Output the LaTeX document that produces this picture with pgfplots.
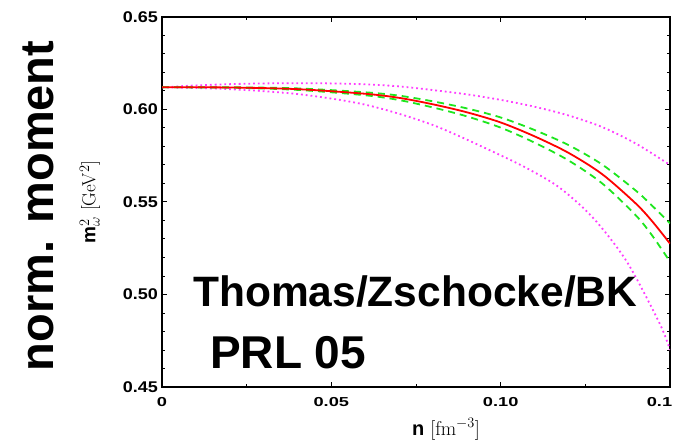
\documentclass[border=0pt]{standalone}
\usepackage{pgfplots}
\pgfplotsset{compat=1.18}
\usepackage{fontspec}
\setsansfont{Liberation Sans}
\definecolor{lgreen}{RGB}{30,230,30}
\definecolor{lmag}{RGB}{255,60,255}
\begin{document}
\begin{tikzpicture}
\useasboundingbox (0pt,0pt) rectangle (679pt,439pt);
\clip (0pt,0pt) rectangle (679pt,439pt);
\begin{axis}[
  at={(162pt,52pt)}, anchor=south west,
  scale only axis, width=508pt, height=370pt,
  xmin=0, xmax=0.15, ymin=0.45, ymax=0.65,
  xtick={0,0.05,0.1,0.15}, xticklabels={0,0.05,0.10,{0.1\hspace*{15pt}}},
  ytick={0.45,0.5,0.55,0.6,0.65}, yticklabels={0.45,0.50,0.55,0.60,0.65},
  minor x tick num=1, minor y tick num=4,
  tick align=inside,
  major tick length=5pt, minor tick length=3pt,
  every tick/.style={black, line width=1pt},
  axis line style={black, line width=1.6pt},
  /pgf/number format/assume math mode=true,
  yticklabel style={font=\sffamily\bfseries\fontsize{15.5}{16}\selectfont, xscale=1.16},
  xticklabel style={font=\sffamily\bfseries\fontsize{13}{14}\selectfont, xscale=1.4, yshift=-7pt},
  xlabel={\textsf{\textbf{n}} [fm$^{-3}$]},
  xlabel style={font=\fontsize{20}{22}\selectfont, at={(axis description cs:0.5,0)}, anchor=base, yshift=-48pt, xshift=30pt},
  ylabel={\textsf{\textbf{m}}$^2_\omega$ [GeV$^2$]},
  every axis y label/.style={at={(axis description cs:-0.142,0.5)}, rotate=90, anchor=center, font=\fontsize{19}{21}\selectfont},
]
\addplot[lmag, line width=1.8pt, dash pattern=on 1.8pt off 3pt, smooth] table {
0 0.6120
0.01 0.6130
0.02 0.6137
0.03 0.6141
0.04 0.6142
0.05 0.6141
0.06 0.6136
0.07 0.6125
0.08 0.6105
0.09 0.6082
0.10 0.6052
0.11 0.6015
0.12 0.5968
0.13 0.5905
0.14 0.5815
0.15 0.5700
};
\addplot[lmag, line width=1.8pt, dash pattern=on 1.8pt off 3pt, smooth] table {
0 0.6120
0.0201 0.6110
0.0407 0.6082
0.0605 0.6024
0.0800 0.5916
0.0998 0.5754
0.1087 0.5673
0.1175 0.5576
0.1273 0.5414
0.1373 0.5176
0.1470 0.4841
0.1500 0.4700
};
\addplot[lgreen, line width=1.8pt, dash pattern=on 7pt off 5pt, smooth] table {
0 0.6120
0.02 0.6120
0.04 0.6114
0.06 0.6093
0.07 0.6075
0.08 0.6044
0.09 0.6006
0.10 0.5957
0.11 0.5889
0.12 0.5808
0.13 0.5702
0.14 0.5560
0.145 0.5475
0.15 0.5385
};
\addplot[lgreen, line width=1.8pt, dash pattern=on 7pt off 5pt, smooth] table {
0 0.6120
0.02 0.6118
0.04 0.6106
0.06 0.6077
0.07 0.6051
0.08 0.6011
0.09 0.5963
0.10 0.5902
0.11 0.5821
0.12 0.5725
0.13 0.5600
0.14 0.5426
0.145 0.5312
0.15 0.5177
};
\addplot[red, line width=1.8pt, smooth] table {
0 0.6120
0.02 0.6119
0.04 0.6110
0.06 0.6085
0.07 0.6063
0.08 0.6028
0.09 0.5985
0.10 0.5930
0.11 0.5855
0.12 0.5766
0.13 0.5650
0.14 0.5490
0.145 0.5390
0.15 0.5275
};
\end{axis}
\node[anchor=base, rotate=90, inner sep=0pt, font=\sffamily\bfseries\fontsize{47}{50}\selectfont] at (53pt,233pt) {norm. moment};
\node[anchor=base west, inner sep=0pt, font=\sffamily\bfseries\fontsize{42.5}{45}\selectfont] at (193pt,132pt) {Thomas/Zschocke/BK};
\node[anchor=base west, inner sep=0pt, font=\sffamily\bfseries\fontsize{46}{48}\selectfont] at (210pt,71pt) {PRL 05};
\end{tikzpicture}
\end{document}
